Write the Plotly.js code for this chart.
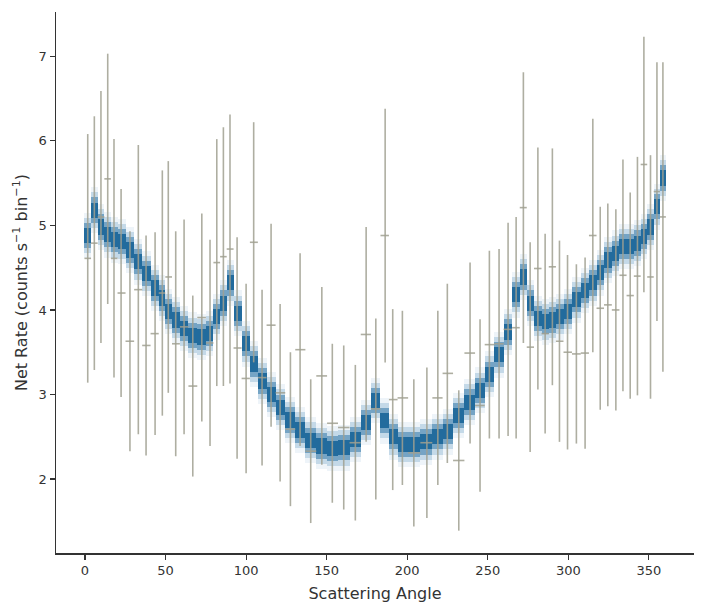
<!DOCTYPE html>
<html>
<head>
<meta charset="utf-8">
<script src="https://cdn.plot.ly/plotly-3.0.1.min.js"></script>
<style>html,body{margin:0;padding:0;background:#fff;}#chart{width:706px;height:614px;}</style>
</head>
<body>
<div id="chart"></div>
<script>
// Bin centres (scattering angle, degrees)
const angle = [1.7, 5.8, 9.9, 14.1, 18.0, 22.4, 27.9, 33.1, 37.9, 43.5, 48.0, 51.7, 56.3, 61.5, 66.9, 72.5, 77.6, 81.8, 85.9, 90.0,
  94.4, 100.0, 104.7, 109.9, 115.5, 121.1, 127.5, 133.5, 140.1, 147.0, 153.5, 160.6, 167.8, 174.5, 180.5, 186.3, 191.0, 197.0, 204.1, 212.2,
  219.0, 224.9, 232.0, 239.0, 245.2, 251.0, 257.0, 262.6, 267.6, 272.1, 276.3, 281.1, 285.6, 290.1, 294.5, 299.5, 305.0, 310.4, 315.2, 319.8,
  324.5, 329.5, 333.9, 338.4, 342.9, 346.9, 351.0, 355.0, 358.7];
// Observed net rate and 1-sigma error
const rate = [4.61, 4.79, 5.10, 5.55, 4.61, 4.20, 3.63, 4.24, 3.58, 3.72, 4.20, 4.39, 3.60, 3.80, 3.10, 3.91, 3.61, 4.56, 4.63, 4.72,
  3.55, 3.19, 4.80, 3.20, 3.82, 3.02, 2.59, 3.53, 2.33, 3.22, 2.66, 2.61, 2.43, 3.71, 2.83, 4.88, 2.94, 2.96, 2.31, 2.43,
  2.96, 3.25, 2.22, 3.49, 2.87, 3.59, 3.60, 3.77, 3.79, 5.21, 3.56, 4.49, 3.72, 4.51, 3.63, 3.50, 3.48, 3.49, 4.88, 4.02,
  4.06, 4.00, 4.41, 4.17, 4.40, 5.72, 4.39, 5.40, 5.10];
const rateErr = [1.47, 1.50, 1.49, 1.48, 1.41, 1.23, 1.30, 1.71, 1.30, 1.20, 1.45, 1.37, 1.33, 1.27, 1.07, 1.23, 1.22, 1.46, 1.53, 1.59,
  1.31, 1.12, 1.42, 1.04, 1.20, 1.05, 0.91, 1.14, 0.85, 1.05, 0.94, 0.97, 0.92, 1.27, 1.07, 1.50, 1.07, 1.03, 0.87, 0.89,
  1.03, 1.06, 0.83, 1.07, 1.02, 1.11, 1.12, 1.26, 1.31, 1.60, 1.24, 1.43, 1.18, 1.40, 1.19, 1.15, 1.06, 1.13, 1.38, 1.20,
  1.20, 1.19, 1.37, 1.22, 1.41, 1.51, 1.44, 1.53, 1.83];
// Model (posterior band centre)
const model = [4.88, 5.18, 4.98, 4.89, 4.83, 4.81, 4.71, 4.57, 4.43, 4.26, 4.14, 3.98, 3.88, 3.78, 3.70, 3.68, 3.72, 3.92, 4.08, 4.32,
  3.96, 3.60, 3.36, 3.16, 3.00, 2.85, 2.70, 2.58, 2.46, 2.39, 2.36, 2.37, 2.47, 2.67, 2.93, 2.69, 2.50, 2.41, 2.41, 2.44,
  2.50, 2.56, 2.75, 2.91, 3.05, 3.24, 3.47, 3.74, 4.18, 4.39, 4.08, 3.90, 3.86, 3.88, 3.92, 3.98, 4.12, 4.23, 4.32, 4.44,
  4.59, 4.67, 4.75, 4.75, 4.79, 4.87, 4.98, 5.22, 5.56];
const xTicks = [0, 50, 100, 150, 200, 250, 300, 350];
const yTicks = [2, 3, 4, 5, 6, 7];

// bin edges from neighbouring centres
const n = angle.length;
const left = [], right = [];
for (let i = 0; i < n; i++) {
  const l = i === 0 ? angle[0] - (angle[1] - angle[0]) / 2 : (angle[i - 1] + angle[i]) / 2;
  const r = i === n - 1 ? angle[n - 1] + (angle[n - 1] - angle[n - 2]) / 2 : (angle[i] + angle[i + 1]) / 2;
  left.push(l); right.push(r);
}
const mid = left.map((l, i) => (l + right[i]) / 2);
const wid = left.map((l, i) => right[i] - l);

function band(half, color) {
  return {
    type: 'bar', x: mid, width: wid,
    base: model.map(m => m - half), y: model.map(() => 2 * half),
    marker: {color: color, line: {width: 0}},
    hoverinfo: 'skip', showlegend: false
  };
}

const traces = [
  band(0.27, 'rgba(40,120,175,0.08)'),
  band(0.21, 'rgba(30,110,165,0.20)'),
  band(0.15, 'rgba(22,100,155,0.45)'),
  band(0.09, 'rgba(14,92,146,0.80)'),
  {
    type: 'scatter', mode: 'markers', x: angle, y: rate,
    marker: {size: 1, opacity: 0},
    error_y: {type: 'data', array: rateErr, symmetric: true, width: 0, thickness: 1.6, color: 'rgba(160,160,145,0.85)'},
    error_x: {type: 'data', array: right.map((r, i) => r - angle[i]), arrayminus: angle.map((a, i) => a - left[i]), symmetric: false, width: 0, thickness: 1.6, color: 'rgba(160,160,145,0.85)'},
    hoverinfo: 'skip', showlegend: false
  }
];

const axisCommon = {
  showline: true, linecolor: '#333', linewidth: 1.5, mirror: false,
  ticks: 'outside', ticklen: 5, tickwidth: 1.2, tickcolor: '#333',
  showgrid: false, zeroline: false,
  tickfont: {family: 'DejaVu Sans, sans-serif', size: 13, color: '#333'}
};

const layout = {
  width: 706, height: 614,
  margin: {l: 56, r: 12, t: 12, b: 61},
  paper_bgcolor: '#fff', plot_bgcolor: '#fff',
  barmode: 'overlay', bargap: 0,
  font: {family: 'DejaVu Sans, sans-serif', color: '#333'},
  xaxis: Object.assign({}, axisCommon, {
    range: [-18, 378], tickvals: xTicks, ticktext: xTicks.map(String),
    title: {text: 'Scattering Angle', font: {size: 16, color: '#333'}, standoff: 10}
  }),
  yaxis: Object.assign({}, axisCommon, {
    range: [1.126, 7.523], tickvals: yTicks, ticktext: yTicks.map(String),
    title: {text: 'Net Rate (counts s<sup>\u22121</sup> bin<sup>\u22121</sup>)', font: {size: 16, color: '#333'}, standoff: 7}
  })
};

Plotly.newPlot('chart', traces, layout, {displayModeBar: false, staticPlot: true});
</script>
</body>
</html>
